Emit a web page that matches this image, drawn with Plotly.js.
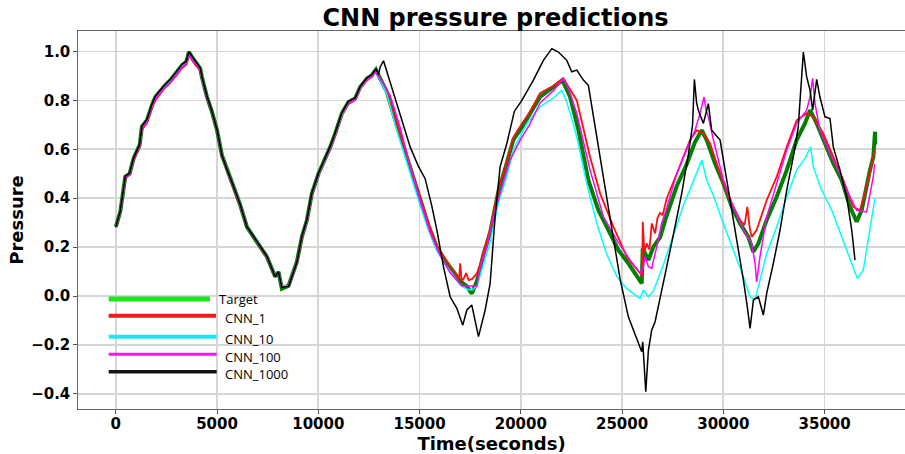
<!DOCTYPE html>
<html>
<head>
<meta charset="utf-8">
<script src="https://cdn.plot.ly/plotly-3.0.1.min.js"></script>
<style>
  html, body { margin: 0; padding: 0; background: #fff; overflow: hidden; }
  #chart { width: 905px; height: 454px; }
</style>
</head>
<body>
<div id="chart"></div>
<script>
// Measured pressure (Target) and predictions of four CNN models over time (seconds).
const tTarget = [0,220,470,680,880,1175,1290,1540,1785,1950,2360,2690,3020,3270,3480,3610,3760,3925,4170,4250,4500,4750,5000,5240,5490,5815,6145,6475,6800,7130,7460,7870,8035,8200,8530,8940,9190,9435,9685,10010,10340,10590,10835,11165,11490,11820,12070,12400,12645,12845,12970,13385,13795,14205,14620,15030,15440,15855,16265,16675,17005,17335,17580,17830,18155,18485,18895,19310,19635,20050,20425,20950,21610,22050,22435,22845,23335,23830,24325,24820,25310,25725,25970,26020,26300,26545,26875,27205,27700,28195,28600,28935,29180,29590,30000,30415,30825,31235,31480,31730,32140,32635,33130,33620,34030,34280,34610,35020,35430,35845,36255,36585,36830,37240,37405,37490,37500];
const target = [0.283,0.345,0.488,0.500,0.563,0.617,0.692,0.719,0.781,0.814,0.855,0.883,0.917,0.944,0.958,0.998,0.978,0.958,0.930,0.896,0.815,0.753,0.678,0.576,0.515,0.447,0.372,0.283,0.242,0.201,0.161,0.079,0.099,0.030,0.042,0.140,0.242,0.310,0.420,0.500,0.560,0.610,0.665,0.747,0.794,0.808,0.855,0.890,0.903,0.926,0.903,0.835,0.720,0.610,0.500,0.385,0.288,0.200,0.145,0.100,0.062,0.040,0.010,0.060,0.170,0.260,0.430,0.545,0.640,0.690,0.740,0.815,0.855,0.883,0.814,0.678,0.474,0.351,0.270,0.188,0.134,0.079,0.052,0.195,0.147,0.201,0.240,0.330,0.450,0.540,0.630,0.678,0.638,0.542,0.461,0.365,0.297,0.242,0.181,0.215,0.311,0.406,0.515,0.638,0.706,0.760,0.706,0.624,0.542,0.474,0.365,0.304,0.351,0.515,0.569,0.672,0.620];

const tCnn1 = [0,220,470,680,880,1175,1290,1540,1785,1950,2360,2690,3020,3270,3480,3610,3760,3925,4170,4250,4500,4750,5000,5240,5490,5815,6145,6475,6800,7130,7460,7870,8035,8200,8530,8940,9190,9435,9685,10010,10340,10590,10835,11165,11490,11820,12070,12400,12645,12845,12970,13385,13795,14205,14620,15030,15440,15855,16265,16675,16950,17005,17080,17200,17300,17420,17600,17830,18000,18155,18485,18895,19310,19635,20050,20425,20950,21610,22100,22400,22765,23420,23915,24575,25230,25890,25990,26020,26100,26215,26350,26465,26630,26750,26875,27000,27205,27700,28100,28355,28690,29015,29345,29840,30330,30825,31050,31185,31300,31400,31645,32140,32635,33130,33620,34115,34440,34935,35430,35925,36415,36745,37075,37485];
const cnn1 = [0.285,0.340,0.480,0.497,0.555,0.610,0.680,0.707,0.770,0.800,0.845,0.872,0.905,0.932,0.946,0.990,0.965,0.945,0.922,0.890,0.812,0.752,0.678,0.578,0.515,0.447,0.372,0.285,0.242,0.200,0.160,0.082,0.100,0.040,0.045,0.138,0.240,0.308,0.418,0.498,0.556,0.605,0.660,0.742,0.786,0.800,0.848,0.882,0.895,0.920,0.900,0.835,0.725,0.618,0.510,0.395,0.298,0.205,0.150,0.100,0.068,0.134,0.060,0.075,0.094,0.065,0.070,0.093,0.130,0.180,0.270,0.440,0.550,0.650,0.705,0.750,0.830,0.860,0.890,0.850,0.800,0.569,0.420,0.283,0.161,0.093,0.080,0.304,0.180,0.215,0.190,0.297,0.256,0.320,0.340,0.330,0.400,0.500,0.580,0.638,0.678,0.665,0.624,0.500,0.392,0.311,0.290,0.365,0.280,0.242,0.270,0.392,0.488,0.610,0.719,0.747,0.733,0.665,0.569,0.474,0.365,0.351,0.447,0.597];

const tCnn10 = [0,220,470,680,880,1175,1290,1540,1785,1950,2360,2690,3020,3270,3480,3610,3760,3925,4170,4250,4500,4750,5000,5240,5490,5815,6145,6475,6800,7130,7460,7870,8035,8200,8530,8940,9190,9435,9685,10010,10340,10590,10835,11165,11490,11820,12070,12400,12645,12845,12970,13385,13795,14205,14620,15030,15440,15855,16265,16675,17005,17335,17580,17830,18155,18485,18895,19310,19635,20295,20950,21610,22025,22270,22765,23255,23750,24245,24740,25230,25890,26050,26300,26545,27040,27530,28025,28520,28935,29180,29510,30000,30495,30990,31320,31565,31810,32140,32635,33130,33620,34030,34310,34440,34855,35350,35845,36340,36620,36910,37240,37485];
const cnn10 = [0.285,0.345,0.485,0.500,0.560,0.615,0.688,0.715,0.778,0.810,0.850,0.878,0.912,0.940,0.952,0.995,0.972,0.952,0.925,0.893,0.815,0.755,0.680,0.580,0.517,0.450,0.375,0.288,0.245,0.203,0.163,0.083,0.100,0.040,0.043,0.138,0.240,0.306,0.415,0.495,0.555,0.606,0.660,0.742,0.790,0.803,0.850,0.885,0.898,0.920,0.897,0.825,0.700,0.590,0.480,0.370,0.270,0.185,0.130,0.085,0.045,0.028,0.025,0.040,0.130,0.220,0.380,0.490,0.600,0.705,0.774,0.810,0.842,0.794,0.651,0.461,0.297,0.170,0.080,0.030,-0.010,0.025,-0.003,0.020,0.128,0.250,0.370,0.470,0.556,0.474,0.410,0.297,0.188,0.079,-0.003,-0.016,0.065,0.174,0.283,0.406,0.515,0.563,0.610,0.528,0.433,0.351,0.242,0.134,0.072,0.106,0.270,0.399];

const tCnn100 = [0,220,470,680,880,1175,1290,1540,1785,1950,2360,2690,3020,3270,3480,3610,3760,3925,4170,4250,4500,4750,5000,5240,5490,5815,6145,6475,6800,7130,7460,7870,8035,8200,8530,8940,9190,9435,9685,10010,10340,10590,10835,11165,11490,11820,12070,12400,12645,12845,12970,13550,14040,14535,15030,15525,16020,16510,16840,17090,17830,18000,18320,18650,18980,19470,19965,20425,20950,21610,22100,22300,22765,23420,24080,24740,25395,25890,26050,26135,26300,26465,26550,26710,26960,27205,27450,27700,28195,28600,28850,29045,29150,29260,29510,30000,30495,30990,31400,31565,31645,31810,32140,32635,33130,33620,34115,34280,34410,34525,34770,35265,35760,36255,36585,37075,37405,37470];
const cnn100 = [0.280,0.342,0.482,0.497,0.558,0.612,0.685,0.712,0.775,0.806,0.848,0.875,0.908,0.936,0.950,0.992,0.968,0.950,0.925,0.892,0.813,0.753,0.678,0.578,0.515,0.447,0.372,0.285,0.243,0.201,0.161,0.080,0.098,0.036,0.040,0.136,0.238,0.306,0.416,0.496,0.556,0.606,0.660,0.744,0.790,0.804,0.851,0.886,0.899,0.922,0.900,0.820,0.690,0.530,0.392,0.260,0.165,0.095,0.065,0.041,0.041,0.120,0.200,0.324,0.420,0.556,0.638,0.700,0.790,0.840,0.890,0.860,0.747,0.515,0.324,0.229,0.147,0.093,0.120,0.161,0.120,0.113,0.147,0.200,0.300,0.360,0.430,0.500,0.600,0.678,0.747,0.814,0.760,0.733,0.638,0.474,0.365,0.270,0.215,0.134,0.058,0.161,0.324,0.461,0.597,0.706,0.760,0.814,0.890,0.787,0.678,0.583,0.500,0.406,0.351,0.344,0.488,0.540];

const tCnn1000 = [0,220,470,680,880,1175,1290,1540,1785,1950,2360,2690,3020,3270,3480,3610,3760,3925,4170,4250,4500,4750,5000,5240,5490,5815,6145,6475,6800,7130,7460,7870,8035,8200,8530,8940,9190,9435,9685,10010,10340,10590,10835,11165,11490,11820,12070,12400,12645,12845,12970,13055,13220,13550,14040,14535,14945,15275,15600,15855,16180,16510,16840,17135,17335,17580,17910,18240,18485,18730,18980,19310,19680,20050,20620,21115,21530,21855,22270,22515,22765,23090,23335,23750,24000,24245,24575,24900,25310,25560,25805,25970,26020,26170,26300,26465,26630,26900,27205,27530,27945,28275,28480,28570,28680,28765,29015,29260,29425,29840,30085,30330,30660,30990,31160,31320,31485,31730,31975,32140,32470,32800,33130,33455,33700,33950,34115,34280,34410,34610,34770,35020,35265,35430,35760,36090,36340,36500];
const cnn1000 = [0.283,0.347,0.490,0.502,0.565,0.620,0.695,0.722,0.784,0.817,0.858,0.886,0.920,0.947,0.960,1.000,0.980,0.960,0.932,0.898,0.818,0.755,0.680,0.578,0.517,0.449,0.374,0.285,0.244,0.203,0.163,0.080,0.100,0.035,0.040,0.138,0.244,0.312,0.422,0.502,0.562,0.612,0.667,0.750,0.796,0.810,0.857,0.892,0.905,0.930,0.905,0.937,0.962,0.875,0.745,0.610,0.530,0.480,0.370,0.270,0.120,-0.003,-0.050,-0.119,-0.057,-0.037,-0.166,-0.057,0.052,0.324,0.530,0.624,0.755,0.800,0.883,0.964,1.012,0.998,0.964,0.917,0.924,0.883,0.862,0.651,0.530,0.390,0.230,0.070,-0.085,-0.139,-0.200,-0.228,-0.187,-0.391,-0.221,-0.139,-0.105,-0.003,0.120,0.250,0.420,0.580,0.700,0.886,0.790,0.760,0.706,0.787,0.678,0.638,0.515,0.406,0.242,0.065,-0.030,-0.132,-0.016,-0.003,-0.078,0.011,0.134,0.270,0.433,0.569,0.692,0.998,0.896,0.842,0.760,0.886,0.814,0.733,0.726,0.610,0.515,0.406,0.270,0.147];

const seriesNames = ['Target', 'CNN_1', 'CNN_10', 'CNN_100', 'CNN_1000'];
const seriesTimes = [tTarget, tCnn1, tCnn10, tCnn100, tCnn1000];
const seriesValues = [target, cnn1, cnn10, cnn100, cnn1000];

const xTickVals = [0, 5000, 10000, 15000, 20000, 25000, 30000, 35000];
const yTickVals = [-0.4, -0.2, 0.0, 0.2, 0.4, 0.6, 0.8, 1.0];

// Styling
const lineColors = ['#008000', '#ff1010', '#00ffff', '#ff00ff', '#000000'];
const lineWidths = [4, 1.8, 1.5, 1.5, 1.5];
const keyColors = ['#1de61d', '#f21a1a', '#1ee6f0', '#e61ee6', '#141414'];
const keyWidths = [5, 4, 4, 3, 3.5];

const traces = seriesNames.map((name, i) => ({
  type: 'scatter',
  mode: 'lines',
  name: name,
  x: seriesTimes[i],
  y: seriesValues[i],
  line: { color: lineColors[i], width: lineWidths[i] },
  showlegend: false,
  hoverinfo: 'skip'
}));

// Hand-placed key (paper coordinates)
const keyRowY = [0.291, 0.2468, 0.1913, 0.1447, 0.0987];
const keyTextY = [0.2897, 0.2399, 0.1852, 0.1384, 0.0918];
const keyLineEnd = [0.1596, 0.1669, 0.1677, 0.1677, 0.1677];
const keyTextX = [0.1677, 0.1755, 0.1755, 0.1755, 0.1755];

const shapes = seriesNames.map((name, i) => ({
  type: 'line', xref: 'paper', yref: 'paper',
  x0: 0.0371, x1: keyLineEnd[i], y0: keyRowY[i], y1: keyRowY[i],
  line: { color: keyColors[i], width: keyWidths[i] }
}));
const annotations = seriesNames.map((name, i) => ({
  xref: 'paper', yref: 'paper', x: keyTextX[i], y: keyTextY[i],
  xanchor: 'left', yanchor: 'middle', showarrow: false,
  text: name,
  font: { family: 'Open Sans, sans-serif', size: 13, color: '#000' }
}));

const tickFont = { family: 'DejaVu Sans', size: 15, color: '#000', weight: 'bold' };

const layout = {
  width: 905,
  height: 454,
  margin: { l: 78, r: 0, t: 31, b: 45, pad: 0 },
  paper_bgcolor: '#fff',
  plot_bgcolor: '#fff',
  title: {
    text: 'CNN pressure predictions',
    font: { family: 'DejaVu Sans', size: 24, color: '#000', weight: 'bold' },
    x: 0.5475, xanchor: 'center', xref: 'container',
    y: 0.962, yanchor: 'middle', yref: 'container'
  },
  xaxis: {
    range: [-1866, 38970],
    tickvals: xTickVals,
    tickformat: 'd',
    tickfont: tickFont,
    ticks: 'outside', ticklen: 3.5, tickwidth: 1, tickcolor: '#555',
    ticklabelstandoff: -3,
    showgrid: true, gridcolor: '#d6d6d6', gridwidth: 1.7,
    zeroline: false,
    showline: true, linecolor: '#666', linewidth: 1.2, mirror: true,
    title: {
      text: 'Time(seconds)',
      font: { family: 'DejaVu Sans', size: 18, color: '#000', weight: 'bold' },
      standoff: 9
    }
  },
  yaxis: {
    range: [-0.462, 1.084],
    tickvals: yTickVals,
    tickformat: '.1f',
    tickfont: tickFont,
    ticks: 'outside', ticklen: 3.5, tickwidth: 1, tickcolor: '#555',
    showgrid: true, gridcolor: '#d6d6d6', gridwidth: 1.7,
    zeroline: false,
    showline: true, linecolor: '#666', linewidth: 1.2, mirror: false,
    title: {
      text: 'Pressure',
      font: { family: 'DejaVu Sans', size: 18, color: '#000', weight: 'bold' },
      standoff: 2
    }
  },
  shapes: shapes,
  annotations: annotations,
  showlegend: false
};

Plotly.newPlot('chart', traces, layout, { staticPlot: true, displayModeBar: false });
</script>
</body>
</html>
